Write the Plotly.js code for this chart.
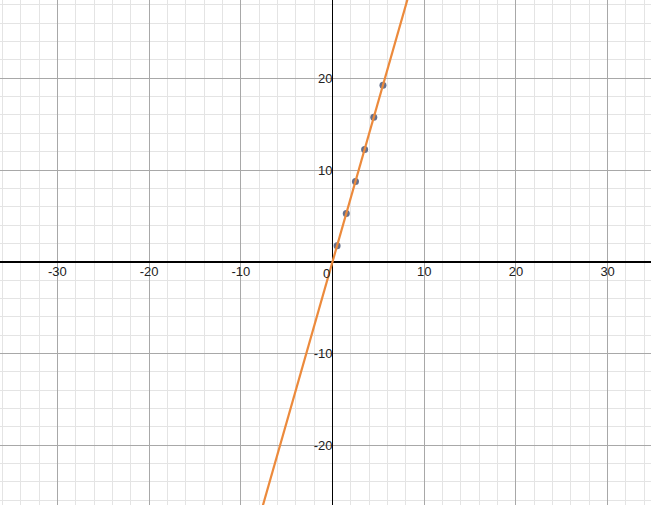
<!DOCTYPE html>
<html>
<head>
<meta charset="utf-8">
<script src="https://cdn.plot.ly/plotly-3.0.1.min.js"></script>
<style>
  html, body { margin: 0; padding: 0; background: #ffffff; }
  #chart { width: 651px; height: 505px; }
</style>
</head>
<body>
<div id="chart"></div>
<script>
// sample points
const pointX = [0.5, 1.5, 2.5, 3.5, 4.5, 5.5];
const pointY = [1.75, 5.25, 8.75, 12.25, 15.75, 19.25];

// fitted line y = 3.5x, two ends beyond the view
const lineX = [-9, 9];
const lineY = [-31.5, 31.5];

// tick labels
const xTickVals = [-30, -20, -10, 0, 10, 20, 30];
const xTickText = ['-30', '-20', '-10', '', '10', '20', '30'];
const yTickVals = [-20, -10, 0, 10, 20];
const yTickText = ['-20', '-10', '', '10', '20'];

const xRange = [-36.26, 34.73];
const yRange = [-26.53, 28.54];

const points = {
    x: pointX,
    y: pointY,
    type: 'scatter',
    mode: 'markers',
    marker: { size: 7, color: '#66708c' },
    hoverinfo: 'x+y'
};

const fitLine = {
    x: lineX,
    y: lineY,
    type: 'scatter',
    mode: 'lines',
    line: { color: '#ec8a3c', width: 2.2 },
    hoverinfo: 'none'
};

const axisFont = { family: 'Liberation Sans, Arial, sans-serif', size: 13, color: '#222222' };

const layout = {
    width: 651,
    height: 505,
    margin: { l: 0, r: 0, t: 0, b: 0 },
    paper_bgcolor: '#ffffff',
    plot_bgcolor: '#ffffff',
    showlegend: false,
    xaxis: {
        range: xRange,
        anchor: 'free',
        position: (0 - yRange[0]) / (yRange[1] - yRange[0]),
        tickmode: 'array',
        tickvals: xTickVals,
        ticktext: xTickText,
        ticks: '',
        tickfont: axisFont,
        showgrid: true,
        gridcolor: '#a8a8a8',
        gridwidth: 1,
        minor: { dtick: 2, tick0: 0, showgrid: true, gridcolor: '#e4e4e4', gridwidth: 1 },
        zeroline: true,
        zerolinecolor: '#000000',
        zerolinewidth: 1.6,
        showline: false,
        fixedrange: true
    },
    yaxis: {
        range: yRange,
        anchor: 'free',
        position: (0 - xRange[0]) / (xRange[1] - xRange[0]),
        tickmode: 'array',
        tickvals: yTickVals,
        ticktext: yTickText,
        ticks: '',
        tickfont: axisFont,
        showgrid: true,
        gridcolor: '#a8a8a8',
        gridwidth: 1,
        minor: { dtick: 2, tick0: 0, showgrid: true, gridcolor: '#e4e4e4', gridwidth: 1 },
        zeroline: true,
        zerolinecolor: '#000000',
        zerolinewidth: 1.6,
        showline: false,
        fixedrange: true
    },
    annotations: [{
        x: 0,
        y: 0,
        xref: 'x',
        yref: 'y',
        text: '0',
        showarrow: false,
        xanchor: 'right',
        yanchor: 'top',
        xshift: -1,
        yshift: -2,
        font: axisFont
    }]
};

Plotly.newPlot('chart', [points, fitLine], layout, { displayModeBar: false, staticPlot: true });
</script>
</body>
</html>
